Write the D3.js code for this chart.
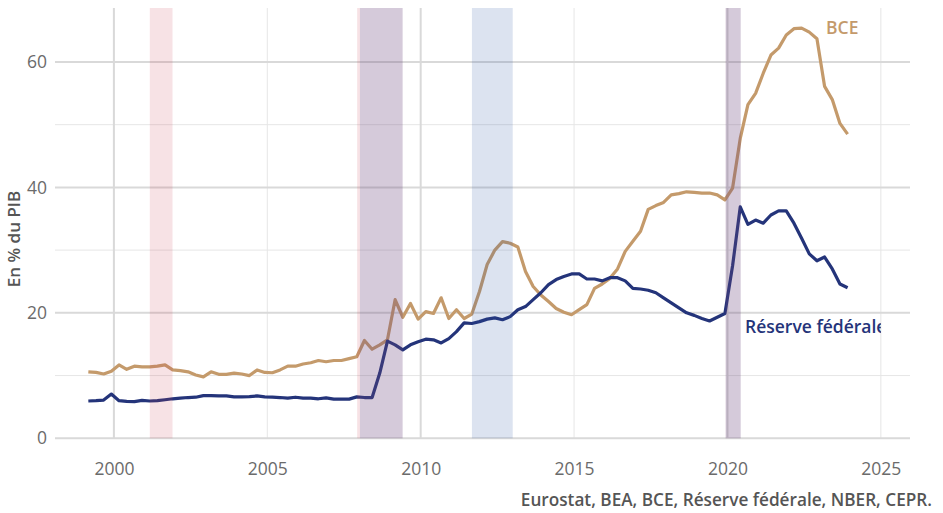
<!DOCTYPE html>
<html>
<head>
<meta charset="utf-8">
<script src="https://cdn.jsdelivr.net/npm/d3@7"></script>
<style>
  body { margin: 0; background: #fff; }
  svg { display: block; font-family: "Open Sans", sans-serif; }
</style>
</head>
<body>
<svg id="chart" width="943" height="513"></svg>
<script>
// quarterly, 1999Q1 .. 2023Q4 (points placed at the last month of the quarter)
const startYear = 1999;
const bce = [
  10.6, 10.5, 10.25, 10.7,
  11.7, 11.0, 11.5, 11.4,
  11.4, 11.5, 11.7, 10.9,
  10.8, 10.6, 10.1, 9.8,
  10.6, 10.2, 10.2, 10.4,
  10.25, 10.0, 10.9, 10.5,
  10.45, 10.9, 11.5, 11.5,
  11.85, 12.05, 12.4, 12.2,
  12.4, 12.4, 12.7, 13.0,
  15.6, 14.2, 14.9, 15.7,
  22.1, 19.3, 21.5, 19.0,
  20.2, 19.9, 22.4, 19.1,
  20.5, 19.1, 19.8, 23.4,
  27.7, 30.0, 31.35, 31.1,
  30.5, 26.6, 24.2, 22.85,
  21.8, 20.7, 20.1, 19.7,
  20.5, 21.3, 23.9, 24.6,
  25.5, 27.0, 29.8, 31.4,
  33.0, 36.5, 37.1, 37.6,
  38.8, 39.0, 39.3, 39.2,
  39.1, 39.1, 38.8, 38.0,
  39.9, 47.8, 53.2, 55.0,
  58.2, 61.1, 62.2, 64.3,
  65.3, 65.4, 64.75, 63.7,
  56.1, 54.0, 50.2, 48.5
];
const fed = [
  5.95, 6.0, 6.1, 7.05,
  6.0, 5.9, 5.85, 6.05,
  5.95, 6.0, 6.15, 6.3,
  6.4, 6.5, 6.55, 6.8,
  6.8, 6.75, 6.75, 6.6,
  6.6, 6.65, 6.75, 6.6,
  6.55, 6.5, 6.4, 6.55,
  6.4, 6.4, 6.3, 6.45,
  6.25, 6.25, 6.25, 6.6,
  6.5, 6.5, 10.4, 15.5,
  14.9, 14.1, 14.9, 15.4,
  15.8, 15.7, 15.2, 15.9,
  17.0, 18.4, 18.3, 18.6,
  19.0, 19.2, 18.9, 19.4,
  20.5, 21.0, 22.1, 23.2,
  24.5, 25.3, 25.8, 26.2,
  26.2, 25.4, 25.4, 25.1,
  25.6, 25.6, 25.1, 23.9,
  23.8, 23.6, 23.2, 22.4,
  21.6, 20.8, 20.0, 19.6,
  19.1, 18.7, 19.3, 19.9,
  27.5, 36.9, 34.1, 34.8,
  34.3, 35.6, 36.25, 36.25,
  34.3, 31.9, 29.4, 28.3,
  28.9, 27.0, 24.6, 24.0
];

// recessions [start, end] in decimal years
const usRecessions = [[2001.17, 2001.91], [2007.93, 2009.41], [2019.94, 2020.43]];   // NBER
const euroRecessions = [[2008.02, 2009.41], [2011.67, 2013.0], [2019.94, 2020.43]];  // CEPR

const yearTicks = [2000, 2005, 2010, 2015, 2020, 2025];
const yTicks = [0, 20, 40, 60];
const yMinorTicks = [10, 30, 50];

const yAxisTitle = "En % du PIB";
const sourceText = "Eurostat, BEA, BCE, Réserve fédérale, NBER, CEPR.";
const bceLabel = "BCE";
const fedLabel = "Réserve fédérale";

const bceColor = "#c49a6b";
const fedColor = "#24347a";

const svg = d3.select("#chart");
const m = { left: 55, right: 910, top: 8, bottom: 438.3 };

const x = d3.scaleLinear().domain([1998.08, 2025.95]).range([m.left, m.right]);
const y = d3.scaleLinear().domain([0, 68.6]).range([m.bottom, m.top]);

const toPoints = arr => arr.map((v, i) => ({ t: startYear + Math.floor(i / 4) + (3 * (i % 4) + 2) / 12, v }));

// gridlines
const grid = svg.append("g");
grid.selectAll(".ymin").data(yMinorTicks).join("line")
  .attr("x1", m.left).attr("x2", m.right)
  .attr("y1", d => y(d)).attr("y2", d => y(d))
  .attr("stroke", "#e6e6e6").attr("stroke-width", 1);
grid.selectAll(".xg").data(yearTicks).join("line")
  .attr("x1", d => x(d)).attr("x2", d => x(d))
  .attr("y1", m.top).attr("y2", m.bottom)
  .attr("stroke", d => d % 10 === 0 ? "#d9d9d9" : "#e6e6e6")
  .attr("stroke-width", d => d % 10 === 0 ? 2 : 1);
grid.selectAll(".yg").data(yTicks).join("line")
  .attr("x1", m.left).attr("x2", m.right)
  .attr("y1", d => y(d)).attr("y2", d => y(d))
  .attr("stroke", "#d9d9d9").attr("stroke-width", 2);

// axes labels
const yAxis = svg.append("g")
  .attr("transform", `translate(${m.left},0)`)
  .call(d3.axisLeft(y).tickValues(yTicks).tickSize(0).tickPadding(8));
const xAxis = svg.append("g")
  .attr("transform", `translate(0,${m.bottom})`)
  .call(d3.axisBottom(x).tickValues(yearTicks).tickFormat(d3.format("d")).tickSize(0).tickPadding(24));
[yAxis, xAxis].forEach(a => {
  a.select(".domain").remove();
  a.selectAll("text").attr("fill", "#6b6b6b").style("font-size", "17.5px").style("font-family", "Open Sans");
});

// lines
const line = d3.line().x(d => x(d.t)).y(d => y(d.v));
[[bce, bceColor], [fed, fedColor]].forEach(([arr, c]) => {
  svg.append("path")
    .datum(toPoints(arr))
    .attr("fill", "none")
    .attr("stroke", c)
    .attr("stroke-width", 3.2)
    .attr("stroke-linejoin", "round")
    .attr("d", line);
});

// recession bands, drawn over the lines
svg.append("g").selectAll("rect").data(usRecessions).join("rect")
  .attr("x", d => x(d[0])).attr("width", d => x(d[1]) - x(d[0]))
  .attr("y", m.top).attr("height", m.bottom - m.top)
  .attr("fill", "rgb(200,60,80)").attr("fill-opacity", 0.15);
svg.append("g").selectAll("rect").data(euroRecessions).join("rect")
  .attr("x", d => x(d[0])).attr("width", d => x(d[1]) - x(d[0]))
  .attr("y", m.top).attr("height", m.bottom - m.top)
  .attr("fill", "rgb(40,80,160)").attr("fill-opacity", 0.16);

// series labels
svg.append("text")
  .attr("x", 826).attr("y", 34)
  .attr("fill", bceColor)
  .style("font-size", "17.5px").style("font-weight", 600)
  .text(bceLabel);

svg.append("clipPath").attr("id", "lblclip")
  .append("rect").attr("x", 0).attr("y", 0).attr("width", x(2025)).attr("height", 513);
svg.append("text")
  .attr("x", 745).attr("y", 333)
  .attr("clip-path", "url(#lblclip)")
  .attr("fill", fedColor)
  .style("font-size", "17.5px").style("font-weight", 600)
  .text(fedLabel);

// y axis title
svg.append("text")
  .attr("transform", "translate(20,239) rotate(-90)")
  .attr("text-anchor", "middle")
  .attr("fill", "#555")
  .style("font-size", "17px").style("font-weight", 600)
  .text(yAxisTitle);

// source
svg.append("text")
  .attr("x", 932).attr("y", 506)
  .attr("text-anchor", "end")
  .attr("fill", "#555")
  .style("font-size", "17.2px").style("font-weight", 600)
  .text(sourceText);
</script>
</body>
</html>
